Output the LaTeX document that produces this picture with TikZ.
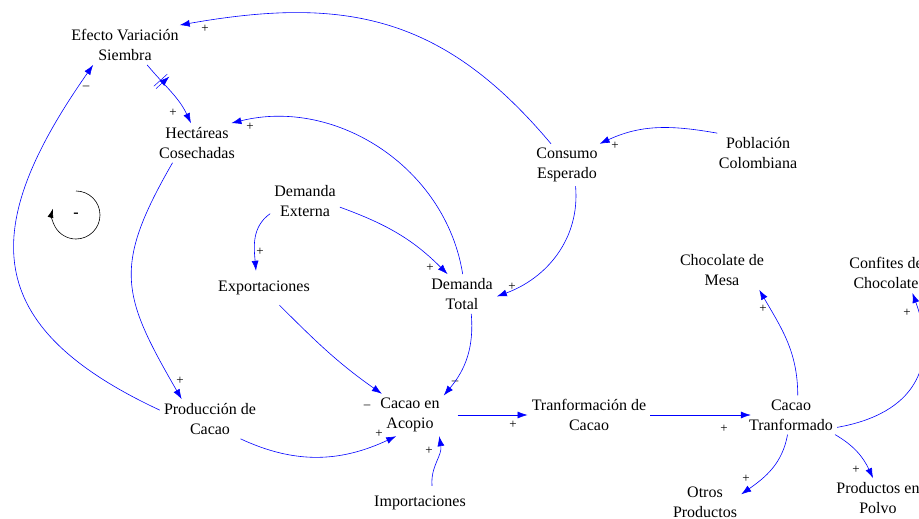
\documentclass[tikz,border=0pt]{standalone}
\usepackage{fontspec}
\setmainfont{Liberation Serif}
\usetikzlibrary{arrows.meta}
\usetikzlibrary{positioning}
\usetikzlibrary{decorations.markings}

\begin{document}
\begin{tikzpicture}[x=1pt, y=1pt,
    var/.style={align=center, inner sep=4pt, font=\fontsize{16}{20}\selectfont},
    link/.style={blue, line width=0.6pt, -{Latex[length=10pt, width=7pt]}},
    sign/.style={inner sep=0pt, font=\fontsize{13}{13}\selectfont},
    delaymark/.style={postaction={decorate}, decoration={markings, mark=at position #1 with {\draw[blue, line width=0.5pt] (-1.6,-9) -- (-1.6,9) (1.6,-9) -- (1.6,9);}}}]
  \useasboundingbox (0,0) rectangle (919,-519);
  \clip (0,0) rectangle (919,-519);
  % variables
  \node[var] (x1) at (125,-45) {Efecto Variación\\Siembra};
  \node[var] (x2) at (197,-143) {Hectáreas\\Cosechadas};
  \node[var] (x3) at (567,-165) {Consumo\\Esperado};
  \node[var] (x4) at (758,-153) {Población\\Colombiana};
  \node[var] (x5) at (305,-201) {Demanda\\Externa};
  \node[var, inner ysep=10pt] (x6) at (264,-288) {Exportaciones};
  \node[var] (x7) at (462,-294) {Demanda\\Total};
  \node[var] (x8) at (210,-419) {Producción de\\Cacao};
  \node[var] (x9) at (410,-415) {Cacao en\\Acopio};
  \node[var, xshift=179] (x10) at (x9.center) {Tranformación de\\Cacao};
  \node[var, xshift=202] (x11) at (x10.center) {Cacao\\Tranformado};
  \node[var] (x12) at (722,-270) {Chocolate de\\Mesa};
  \node[var] (x13) at (886,-273) {Confites de\\Chocolate};
  \node[var, inner ysep=10pt] (x14) at (420,-503) {Importaciones};
  \node[var] (x15) at (705,-502) {Otros\\Productos};
  \node[var] (x16) at (878,-498) {Productos en\\Polvo};
  % polarities
  \node[sign] (s1) at (205,-29) {+};
  \node[sign] (s2) at (173,-113) {+};
  \node[sign] (s3) at (250,-127) {+};
  \node[sign] (s4) at (180,-381) {+};
  \node[sign] (s5) at (86,-88) {--};
  \node[sign] (s6) at (379,-434) {+};
  \node[sign] (s7) at (367,-407) {--};
  \node[sign] (s8) at (455,-383) {--};
  \node[sign] (s9) at (429,-451) {+};
  \node[sign] (s10) at (513,-425) {+};
  \node[sign] (s11) at (724,-429) {+};
  \node[sign] (s12) at (260,-252) {+};
  \node[sign] (s13) at (430,-268) {+};
  \node[sign] (s14) at (512,-287) {+};
  \node[sign] (s15) at (615,-146) {+};
  \node[sign] (s16) at (763,-309) {+};
  \node[sign] (s17) at (907,-313) {+};
  \node[sign] (s18) at (746,-479) {+};
  \node[sign] (s19) at (856,-470) {+};
  % loop
  \draw[line width=0.6pt, -{Latex[length=9pt, width=6pt]}] (76,-191) arc[start angle=90, end angle=-195, radius=24];
  \node[font=\fontsize{16}{16}\selectfont\bfseries] (x17) at (76,-215) {-};
  % links
  \draw[link] (x3.127) to[out=130, in=10, looseness=1.1] (x1.20);
  \draw[link, delaymark=0.3] (x1.-42) to[out=-50, in=115] (x2.107);
  \draw[link] (x7.88) to[out=99, in=14] (x2.30);
  \draw[link] (x2.-141) to[out=-120, in=120, looseness=1.3] (x8.145);
  \draw[link] (x8.170) to[out=155, in=-125, looseness=1.45] (x1.-148);
  \draw[link] (x8.-33) to[out=-25, in=-155] (x9.-123);
  \draw[link] (x6.-48) to[out=-45, in=145] (x9.143);
  \draw[link] (x7.-65) to[out=-85, in=50] (x9.30);
  \draw[link] (x14.55) to[out=95, in=-80] (x9.-36);
  \draw[link, shorten <=14pt] (x9) -- (x10);
  \draw[link, shorten >=-6pt] (x10) -- (x11);
  \draw[link] (x5.-160) to[out=-145, in=95] (x6.115);
  \draw[link] (x5.-10) to[out=-20, in=135] (x7.126);
  \draw[link] (x3.-68) to[out=-85, in=20] (x7.-4);
  \draw[link] (x4.154) to[out=170, in=25] (x3.33);
  \draw[link] (x11.71) to[out=90, in=-60] (x12.-28);
  \draw[link] (x11.-15) to[out=10, in=-70, looseness=1.3] (x13.-37);
  \draw[link] (x11.-100) to[out=-100, in=35] (x15.12);
  \draw[link] (x11.-24) to[out=-30, in=115] (x16.104);
\end{tikzpicture}
\end{document}
